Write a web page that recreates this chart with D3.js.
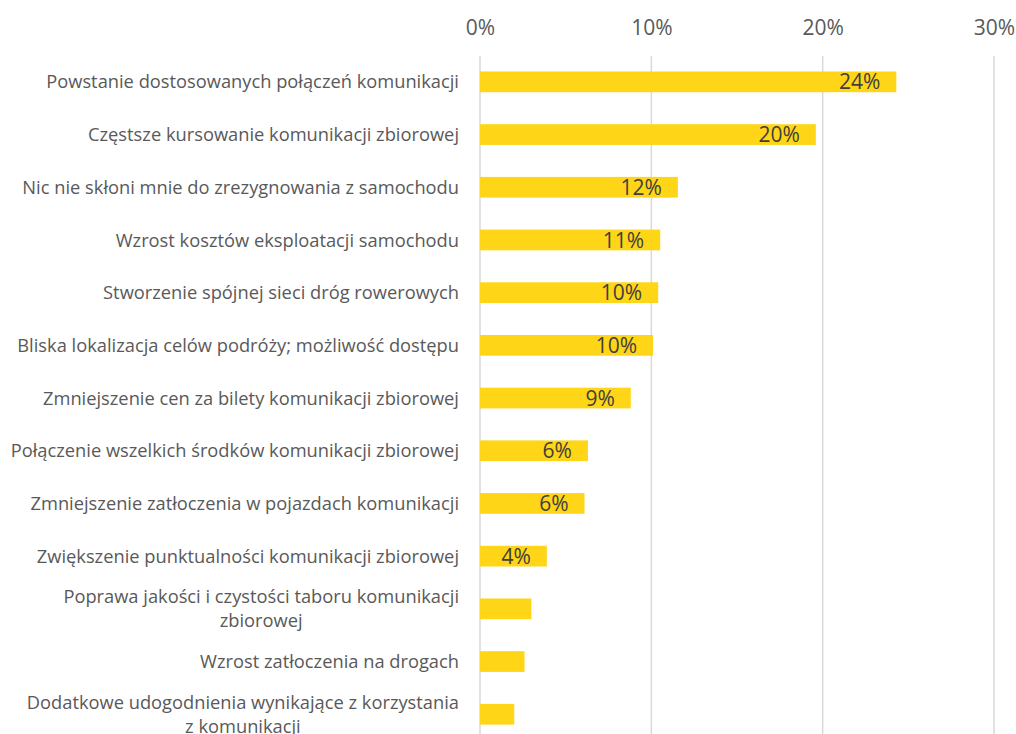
<!DOCTYPE html>
<html>
<head>
<meta charset="utf-8">
<script src="https://cdn.jsdelivr.net/npm/d3@7"></script>
<style>
  html, body { margin: 0; padding: 0; background: #fff; }
  svg { display: block; }
  text { font-family: "Open Sans", sans-serif; }
</style>
</head>
<body>
<svg id="chart" width="1016" height="734"></svg>
<script>
// Categories, top to bottom ("\n" marks where a long label breaks)
const categories = [
  "Powstanie dostosowanych połączeń komunikacji",
  "Częstsze kursowanie komunikacji zbiorowej",
  "Nic nie skłoni mnie do zrezygnowania z samochodu",
  "Wzrost kosztów eksploatacji samochodu",
  "Stworzenie spójnej sieci dróg rowerowych",
  "Bliska lokalizacja celów podróży; możliwość dostępu",
  "Zmniejszenie cen za bilety komunikacji zbiorowej",
  "Połączenie wszelkich środków komunikacji zbiorowej",
  "Zmniejszenie zatłoczenia w pojazdach komunikacji",
  "Zwiększenie punktualności komunikacji zbiorowej",
  "Poprawa jakości i czystości taboru komunikacji\nzbiorowej",
  "Wzrost zatłoczenia na drogach",
  "Dodatkowe udogodnienia wynikające z korzystania\nz komunikacji"
];

// Share of respondents
const values = [0.243, 0.196, 0.1155, 0.1052, 0.104, 0.101, 0.088, 0.063, 0.061, 0.039, 0.030, 0.026, 0.020];

// Whether a value label is shown on the bar
const showLabel = [true, true, true, true, true, true, true, true, true, true, false, false, false];

// Axis ticks
const tickValues = [0, 0.1, 0.2, 0.3];

const svg = d3.select("#chart");

const x = d3.scaleLinear().domain([0, 0.3]).range([480, 994]);
const y = d3.scaleBand()
  .domain(categories)
  .range([55.5, 740.6])
  .paddingInner(0.607)
  .paddingOuter(0.3035);

const pct = d3.format(".0%");

// Vertical gridlines
svg.append("g")
  .selectAll("line")
  .data(tickValues)
  .join("line")
  .attr("x1", d => x(d)).attr("x2", d => x(d))
  .attr("y1", 56).attr("y2", 734)
  .attr("stroke", "#d9d9d9")
  .attr("stroke-width", 1.5);

// Top axis labels
const axis = d3.axisTop(x).tickValues(tickValues).tickFormat(pct).tickSize(0).tickPadding(0);
const axisG = svg.append("g").attr("transform", "translate(0,35)").call(axis);
axisG.select(".domain").remove();
axisG.selectAll("text")
  .attr("font-family", "Open Sans, sans-serif")
  .attr("font-size", 21)
  .attr("fill", "#595959");

// Bars
svg.append("g")
  .selectAll("rect")
  .data(values)
  .join("rect")
  .attr("x", x(0))
  .attr("y", (d, i) => y(categories[i]))
  .attr("width", d => x(d) - x(0))
  .attr("height", y.bandwidth())
  .attr("fill", "#ffd517");

// Value labels, inside the bar end
svg.append("g")
  .selectAll("text")
  .data(values.map((v, i) => ({ v, i })).filter(d => showLabel[d.i]))
  .join("text")
  .attr("x", d => x(d.v) - 16)
  .attr("y", d => y(categories[d.i]) + y.bandwidth() / 2)
  .attr("dy", "0.36em")
  .attr("text-anchor", "end")
  .attr("font-size", 21)
  .attr("fill", "#404040")
  .text(d => pct(d.v));

// Category labels: block right-aligned to the axis, lines centred within the block
const labelRight = 459;
const lineHeight = 24;
const catG = svg.append("g");
categories.forEach(c => {
  const cy = y(c) + y.bandwidth() / 2;
  const lines = c.split("\n");
  const t = catG.append("text")
    .attr("font-size", 18.3)
    .attr("fill", "#595959");
  const y0 = cy - (lines.length - 1) * lineHeight / 2;
  const spans = lines.map((l, k) =>
    t.append("tspan")
      .attr("y", y0 + k * lineHeight)
      .attr("dy", "0.36em")
      .text(l));
  if (lines.length === 1) {
    t.attr("text-anchor", "end");
    spans[0].attr("x", labelRight);
  } else {
    const widths = spans.map(s => s.node().getComputedTextLength());
    const blockWidth = d3.max(widths);
    t.attr("text-anchor", "middle");
    spans.forEach(s => s.attr("x", labelRight - blockWidth / 2));
  }
});
</script>
</body>
</html>
